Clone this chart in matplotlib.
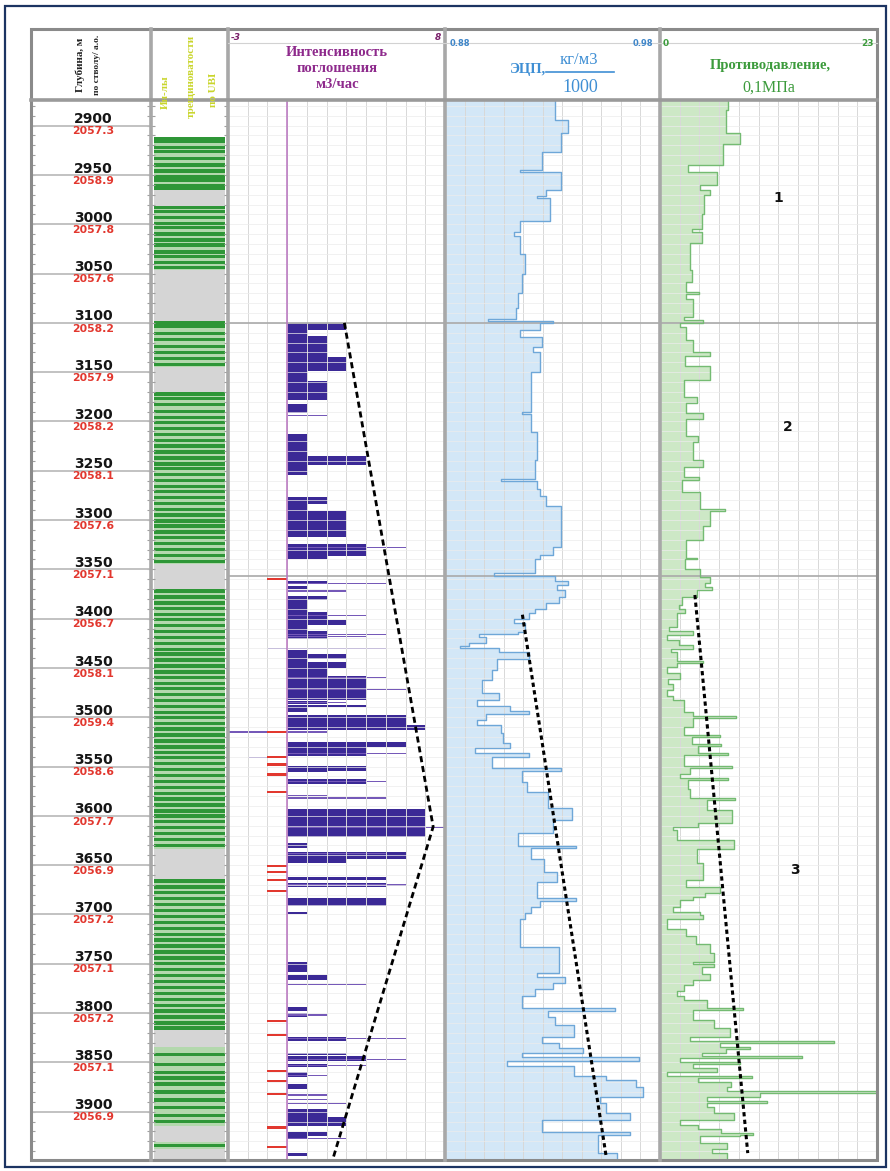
import numpy as np
import matplotlib.pyplot as plt
from matplotlib.patches import Rectangle

W, H = 890, 1171
TOP, BOT = 2874, 3949

# ---- depth track ----
depth_marks = [2900, 2950, 3000, 3050, 3100, 3150, 3200, 3250, 3300, 3350, 3400,
               3450, 3500, 3550, 3600, 3650, 3700, 3750, 3800, 3850, 3900]
tvd_labels = ["2057.3", "2058.9", "2057.8", "2057.6", "2058.2", "2057.9", "2058.2",
              "2058.1", "2057.6", "2057.1", "2056.7", "2058.1", "2059.4", "2058.6",
              "2057.7", "2056.9", "2057.2", "2057.1", "2057.2", "2057.1", "2056.9"]

# ---- fracture intervals (UBI): (top, bottom, kind) f = fractured, g = none ----
frac_zones = [(2912, 2965, 'f'), (2965, 2982, 'g'), (2982, 3046, 'f'), (3046, 3099, 'g'),
              (3099, 3145, 'f'), (3145, 3171, 'g'), (3171, 3345, 'f'), (3345, 3371, 'g'),
              (3371, 3634, 'f'), (3634, 3665, 'g'), (3665, 3817, 'f'), (3817, 3834, 'g'),
              (3834, 3915, 'f'), (3915, 3931, 'g'), (3931, 3938, 'f'), (3938, 3949, 'g')]
frac_lines = [2913, 2916, 2922, 2926, 2933, 2940, 2946, 2952, 2955, 2961, 2964,
              2983, 2987, 2993, 2999, 3003, 3010, 3016, 3021, 3028, 3033, 3039, 3044,
              3100, 3104, 3111, 3117, 3124, 3130, 3136, 3142,
              3172, 3177, 3183, 3190, 3196, 3201, 3207, 3213, 3219, 3225, 3231, 3237,
              3243, 3248, 3254, 3260, 3266, 3271, 3277, 3283, 3289, 3295, 3301, 3306,
              3312, 3318, 3324, 3330, 3336, 3342,
              3372, 3378, 3384, 3390, 3396, 3401, 3407, 3413, 3419, 3425, 3431, 3436,
              3442, 3448, 3454, 3460, 3466, 3471, 3477, 3483, 3489, 3495, 3500, 3506,
              3512, 3518, 3524, 3530, 3536, 3541, 3547, 3553, 3559, 3565, 3571, 3577,
              3583, 3589, 3595, 3600, 3606, 3612, 3618, 3624, 3630,
              3666, 3672, 3678, 3684, 3690, 3696, 3702, 3708, 3714, 3720, 3726, 3732,
              3738, 3744, 3750, 3756, 3762, 3768, 3774, 3780, 3786, 3792, 3798, 3804,
              3810, 3815,
              3842, 3852, 3860, 3866, 3872, 3880, 3888, 3896, 3904, 3910, 3934]

# ---- loss intensity, m3/h: (top, bottom, value) ----
int_bars = [(3100, 3107, 3), (3107, 3113, 1), (3113, 3135, 2), (3135, 3149, 3), (3149, 3159, 1),
            (3159, 3178, 2), (3182, 3191, 1), (3213, 3235, 1), (3235, 3244, 4), (3244, 3254, 1),
            (3277, 3284, 2), (3284, 3291, 1), (3291, 3317, 3), (3324, 3336, 4), (3336, 3340, 2),
            (3362, 3365, 2), (3367, 3370, 1), (3377, 3381, 2), (3381, 3393, 1), (3393, 3401, 2),
            (3401, 3406, 3), (3406, 3413, 1), (3413, 3421, 2), (3432, 3436, 1), (3436, 3441, 3),
            (3441, 3444, 1), (3444, 3450, 3), (3450, 3458, 2), (3458, 3482, 4), (3484, 3487, 2),
            (3488, 3490, 4), (3490, 3495, 1), (3498, 3508, 6), (3508, 3513, 7), (3525, 3530, 6),
            (3530, 3539, 4), (3549, 3554, 4), (3554, 3556, 2), (3563, 3568, 4), (3593, 3621, 7),
            (3628, 3633, 1), (3637, 3644, 6), (3644, 3648, 3), (3662, 3665, 5), (3668, 3672, 5),
            (3683, 3691, 5), (3697, 3700, 1), (3748, 3758, 1), (3761, 3766, 2), (3794, 3798, 1),
            (3800, 3804, 1), (3824, 3828, 3), (3840, 3843, 3), (3844, 3849, 4), (3852, 3855, 2),
            (3860, 3865, 1), (3872, 3877, 1), (3897, 3905, 2), (3905, 3915, 3), (3921, 3925, 2),
            (3925, 3928, 1), (3942, 3945, 1)]
int_thin = [(3194, 2), (3328, 6), (3364, 5), (3372, 3), (3397, 4), (3416, 5), (3418, 4),
            (3430, 5), (3430, -1), (3460, 5), (3472, 6), (3485, 3), (3515, 2), (3515, -3),
            (3537, 6), (3541, -2), (3565, 5), (3579, 2), (3582, 5), (3612, 8), (3638, 5),
            (3670, 6), (3771, 4), (3802, 2), (3826, 6), (3847, 6), (3853, 4), (3863, 2),
            (3883, 2), (3888, 2), (3892, 3), (3927, 3)]
int_neg = [(3360, -1), (3515, -1), (3540, -1), (3548, -1), (3558, -1), (3576, -1),
           (3651, -1), (3657, -1), (3665, -1), (3676, -1), (3808, -1), (3822, -1),
           (3859, -1), (3869, -1), (3882, -1), (3916, -1), (3936, -1)]
int_trend_depth = [3100, 3611, 3949]
int_trend_val = [2.9, 7.4, 2.3]

# ---- ECD, g/cm3: (top depth, value) steps ----
ecd_steps = [(2874, 0.931), (2894, 0.937), (2907, 0.934), (2927, 0.925), (2945, 0.915),
             (2947, 0.934), (2965, 0.927), (2971, 0.923), (2973, 0.929), (2997, 0.915),
             (3008, 0.912), (3012, 0.915), (3030, 0.917), (3050, 0.916), (3070, 0.914),
             (3085, 0.913), (3096, 0.900), (3098, 0.930), (3100, 0.924), (3107, 0.915),
             (3114, 0.925), (3124, 0.921), (3130, 0.924), (3150, 0.920), (3190, 0.916),
             (3192, 0.920), (3211, 0.923), (3239, 0.922), (3258, 0.906), (3260, 0.923),
             (3269, 0.924), (3276, 0.927), (3286, 0.934), (3327, 0.930), (3335, 0.924),
             (3340, 0.922), (3354, 0.903), (3357, 0.931), (3362, 0.937), (3366, 0.932),
             (3371, 0.936), (3378, 0.933), (3384, 0.927), (3390, 0.922), (3394, 0.919),
             (3400, 0.912), (3404, 0.917), (3414, 0.914), (3416, 0.896), (3419, 0.899),
             (3425, 0.891), (3428, 0.887), (3430, 0.905), (3434, 0.919), (3441, 0.904),
             (3452, 0.902), (3462, 0.897), (3475, 0.905), (3482, 0.895), (3489, 0.910),
             (3494, 0.919), (3497, 0.899), (3503, 0.895), (3508, 0.906), (3516, 0.907),
             (3526, 0.910), (3531, 0.894), (3536, 0.919), (3540, 0.902), (3551, 0.934),
             (3554, 0.916), (3566, 0.918), (3576, 0.928), (3592, 0.939), (3604, 0.930),
             (3617, 0.914), (3631, 0.941), (3633, 0.920), (3644, 0.926), (3657, 0.932),
             (3667, 0.923), (3683, 0.941), (3686, 0.924), (3692, 0.920), (3698, 0.917),
             (3705, 0.915), (3733, 0.933), (3759, 0.923), (3763, 0.936), (3770, 0.930),
             (3776, 0.922), (3783, 0.916), (3795, 0.959), (3798, 0.928), (3804, 0.931),
             (3812, 0.940), (3824, 0.925), (3830, 0.933), (3835, 0.944), (3840, 0.916),
             (3845, 0.970), (3849, 0.909), (3854, 0.940), (3864, 0.955), (3868, 0.969),
             (3875, 0.972), (3885, 0.952), (3891, 0.955), (3901, 0.966), (3908, 0.925),
             (3921, 0.966), (3924, 0.951), (3942, 0.960)]
ecd_trend_depth = [3396, 3946]
ecd_trend_val = [0.916, 0.955]

# ---- backpressure, 0.1 MPa: (top depth, value) steps ----
bp_steps = [(2874, 7.2), (2884, 7.0), (2907, 8.5), (2919, 6.7), (2940, 3.0), (2947, 6.0),
            (2960, 4.2), (2965, 5.3), (2970, 4.7), (2990, 4.5), (3005, 3.4), (3008, 4.4),
            (3019, 3.2), (3046, 3.4), (3059, 2.8), (3069, 4.1), (3071, 2.8), (3076, 3.5),
            (3094, 2.5), (3097, 4.6), (3100, 2.1), (3104, 2.8), (3117, 3.5), (3130, 5.3),
            (3134, 2.6), (3144, 5.3), (3158, 2.5), (3175, 3.9), (3181, 2.8), (3191, 4.6),
            (3198, 2.8), (3215, 4.0), (3221, 3.5), (3239, 4.6), (3246, 2.5), (3256, 4.1),
            (3259, 2.3), (3272, 4.2), (3289, 6.9), (3291, 5.3), (3306, 4.6), (3320, 2.8),
            (3338, 3.9), (3340, 2.6), (3350, 4.2), (3358, 5.3), (3364, 4.8), (3368, 5.5),
            (3371, 3.9), (3378, 2.3), (3386, 2.0), (3390, 2.6), (3394, 1.8), (3408, 1.0),
            (3413, 3.5), (3417, 0.7), (3422, 2.0), (3427, 3.5), (3431, 1.2), (3434, 1.8),
            (3443, 4.6), (3445, 1.8), (3449, 0.7), (3455, 2.1), (3461, 0.8), (3466, 1.4),
            (3472, 0.7), (3478, 1.4), (3482, 2.5), (3495, 3.5), (3499, 8.1), (3501, 3.5),
            (3510, 2.5), (3518, 6.4), (3520, 3.4), (3527, 6.5), (3529, 4.0), (3536, 7.2),
            (3538, 2.5), (3549, 7.6), (3551, 3.2), (3558, 2.1), (3562, 7.2), (3564, 3.0),
            (3573, 3.2), (3582, 7.9), (3584, 5.0), (3594, 7.6), (3607, 4.0), (3611, 1.4),
            (3614, 1.8), (3624, 7.8), (3634, 3.9), (3648, 4.6), (3665, 2.8), (3672, 6.4),
            (3678, 4.8), (3682, 3.5), (3685, 2.1), (3692, 1.4), (3697, 4.2), (3701, 4.6),
            (3705, 0.7), (3715, 2.8), (3722, 3.8), (3730, 5.3), (3739, 5.7), (3748, 3.5),
            (3750, 5.7), (3753, 4.5), (3760, 5.3), (3766, 3.5), (3772, 2.5), (3778, 1.8),
            (3783, 2.5), (3787, 5.0), (3795, 8.8), (3797, 3.5), (3807, 5.7), (3815, 7.4),
            (3824, 3.2), (3828, 18.4), (3830, 6.4), (3834, 9.5), (3836, 7.0), (3840, 4.5),
            (3844, 15.0), (3846, 2.1), (3850, 8.5), (3852, 3.5), (3856, 6.0), (3860, 0.7),
            (3864, 9.7), (3866, 4.0), (3870, 7.5), (3875, 7.1), (3879, 23.0), (3881, 10.6),
            (3885, 5.0), (3889, 11.3), (3891, 5.0), (3895, 5.7), (3901, 7.8), (3908, 2.1),
            (3913, 4.0), (3918, 6.5), (3922, 9.9), (3924, 8.5), (3925, 4.2), (3932, 7.1),
            (3938, 5.5), (3942, 7.1)]
bp_trend_depth = [3376, 3942]
bp_trend_val = [3.7, 9.3]

zone_bounds = [3100, 3357]
zone_labels = [("1", 12.5, 2973), ("2", 13.5, 3206), ("3", 14.3, 3655)]

SERIF = "Liberation Serif"

fig = plt.figure(figsize=(W / 100, H / 100), dpi=100)
fig.patch.set_facecolor("white")


def px_axes(x0, x1, y0=100, y1=1160):
    return fig.add_axes([x0 / W, 1 - y1 / H, (x1 - x0) / W, (y1 - y0) / H])


def steps(pairs, end=BOT):
    d = np.array([p[0] for p in pairs] + [end], float)
    v = np.array([p[1] for p in pairs], float)
    return np.repeat(v, 2), np.column_stack([d[:-1], d[1:]]).ravel()


def log_grid(ax, lo, hi, n=11):
    ax.set_xlim(lo, hi)
    ax.set_ylim(BOT, TOP)
    ax.set_xticks(np.linspace(lo, hi, n + 1))
    ax.set_yticks(np.arange(2880, 3950, 10))
    ax.grid(True, axis="x", color="#d8d8d8", lw=0.7)
    ax.grid(True, axis="y", color="#ececec", lw=0.5)
    ax.set_axisbelow(False)
    ax.tick_params(length=0, labelbottom=False, labelleft=False)
    for s in ax.spines.values():
        s.set_visible(False)
    for z in zone_bounds:
        ax.axhline(z, color="#a9a9a9", lw=1.2, zorder=3)


# depth track
axd = px_axes(31, 151)
axd.set_xlim(0, 1)
axd.set_ylim(BOT, TOP)
for d, tvd in zip(depth_marks, tvd_labels):
    axd.axhline(d, color="#bdbdbd", lw=1.3)
    axd.text(0.52, d - 6.5, str(d), ha="center", va="center", fontsize=10,
             fontweight="bold", color="#151515")
    axd.text(0.52, d + 5.8, tvd, ha="center", va="center", fontsize=7.8,
             fontweight="bold", color="#e2372e")
axd.set_yticks(np.arange(2880, 3950, 10))
axd.set_xticks([])
axd.tick_params(axis="y", direction="in", length=3, left=True, right=True,
                labelleft=False, color="#a0a0a0")
for s in axd.spines.values():
    s.set_visible(False)

# fracture track
axf = px_axes(151, 228)
axf.set_xlim(0, 1)
axf.set_ylim(BOT, TOP)
for t, b, k in frac_zones:
    axf.barh((t + b) / 2, 0.92, height=b - t, left=0.04,
             color="#b3d8ad" if k == "f" else "#d5d5d5", lw=0)
axf.barh(frac_lines, 0.92, height=3.4, left=0.04, color="#2e9637", lw=0)
axf.set_yticks(np.arange(2880, 3950, 10))
axf.set_xticks([])
axf.tick_params(axis="y", direction="in", length=3, left=True, right=True,
                labelleft=False, color="#a0a0a0")
for s in axf.spines.values():
    s.set_visible(False)

# loss intensity track
axi = px_axes(228, 445)
log_grid(axi, -3, 8)
axi.barh([(t + b) / 2 for t, b, v in int_bars], [v for t, b, v in int_bars],
         height=[b - t for t, b, v in int_bars], color="#3b2996", lw=0)
axi.barh([d for d, v in int_thin], [v for d, v in int_thin], height=1.3,
         color="#7559b8", lw=0)
axi.barh([d for d, v in int_neg], [v for d, v in int_neg], height=2.4,
         color="#e2382f", lw=0, zorder=3)
axi.axvline(0, color="#b974c0", lw=1.1, zorder=3)
axi.plot(int_trend_val, int_trend_depth, color="black", lw=2,
         ls=(0, (2.2, 1.4)), zorder=5)

# ECD track
axe = px_axes(445, 660)
log_grid(axe, 0.88, 0.98)
ev, ed = steps(ecd_steps)
axe.fill_betweenx(ed, 0.88, ev, color="#d3e7f7", lw=0)
axe.plot(ev, ed, color="#6ea7d8", lw=1, zorder=3)
axe.plot(ecd_trend_val, ecd_trend_depth, color="black", lw=2.2,
         ls=(0, (1.4, 1.1)), zorder=5)

# backpressure track
axb = px_axes(660, 877)
log_grid(axb, 0, 23)
bv, bd = steps(bp_steps)
axb.fill_betweenx(bd, 0, bv, color="#cde8c6", lw=0)
axb.plot(bv, bd, color="#74bb72", lw=1, zorder=3)
axb.plot(bp_trend_val, bp_trend_depth, color="black", lw=2.2,
         ls=(0, (1.4, 1.1)), zorder=5)
for lab, x, d in zone_labels:
    axb.text(x, d, lab, ha="center", va="center", fontsize=10, fontweight="bold",
             color="#111111", zorder=6)

# frame and header (pixel coordinates)
ov = fig.add_axes([0, 0, 1, 1])
ov.set_xlim(0, W)
ov.set_ylim(H, 0)
ov.axis("off")
ov.patch.set_alpha(0)
ov.add_patch(Rectangle((5, 6), 881, 1161, fill=False, ec="#1c3462", lw=1.6))
ov.add_patch(Rectangle((31, 29), 846, 1131, fill=False, ec="#8a8a8a", lw=2.2))
for x in [151, 228, 445, 660]:
    ov.plot([x, x], [29, 1160], color="#a8a8a8", lw=2.6)
ov.plot([31, 877], [100, 100], color="#9a9a9a", lw=2.6)
ov.plot([228, 877], [43, 43], color="#d2d2d2", lw=0.8)

ov.text(80, 65, "Глубина, м", rotation=90, ha="center", va="center",
        fontsize=8, fontweight="bold", family=SERIF, color="#222")
ov.text(97, 65, "по стволу/ а.о.", rotation=90, ha="center", va="center",
        fontsize=6.8, fontweight="bold", family=SERIF, color="#222")
ov.text(165, 92, "Ин-лы", rotation=90, ha="center", va="center",
        fontsize=8, fontweight="bold", family=SERIF, color="#c9d52b")
ov.text(191, 76, "трещиноватости", rotation=90, ha="center", va="center",
        fontsize=8, fontweight="bold", family=SERIF, color="#c9d52b")
ov.text(213, 90, "по UBI", rotation=90, ha="center", va="center",
        fontsize=8, fontweight="bold", family=SERIF, color="#c9d52b")

ov.text(236, 37, "-3", ha="center", va="center", fontsize=6.5, fontweight="bold",
        style="italic", color="#7a1f6a")
ov.text(438, 37, "8", ha="center", va="center", fontsize=6.5, fontweight="bold",
        style="italic", color="#7a1f6a")
for i, line in enumerate(["Интенсивность", "поглошения", "м3/час"]):
    ov.text(337, 53 + 16 * i, line, ha="center", va="center", fontsize=10.5,
            fontweight="bold", family=SERIF, color="#8e2a8c")

ov.text(460, 44, "0.88", ha="center", va="center", fontsize=6, fontweight="bold",
        color="#3f86c9")
ov.text(643, 44, "0.98", ha="center", va="center", fontsize=6, fontweight="bold",
        color="#3f86c9")
ov.text(528, 69, "ЭЦП,", ha="center", va="center", fontsize=10.5,
        fontweight="bold", family=SERIF, color="#3f8fd4")
ov.text(579, 60, "кг/м3", ha="center", va="center", fontsize=12,
        family=SERIF, color="#3f8fd4")
ov.plot([546, 614], [72, 72], color="#3f8fd4", lw=1.2)
ov.text(580, 87, "1000", ha="center", va="center", fontsize=13,
        family=SERIF, color="#3f8fd4")

ov.text(666, 44, "0", ha="center", va="center", fontsize=6.5, fontweight="bold",
        color="#3c9b3c")
ov.text(867, 44, "23", ha="center", va="center", fontsize=6.5, fontweight="bold",
        color="#3c9b3c")
ov.text(770, 66, "Противодавление,", ha="center", va="center", fontsize=10.5,
        fontweight="bold", family=SERIF, color="#3c9b3c")
ov.text(769, 88, "0,1МПа", ha="center", va="center", fontsize=11.5,
        family=SERIF, color="#3c9b3c")

fig.savefig("out.png", dpi=100)
